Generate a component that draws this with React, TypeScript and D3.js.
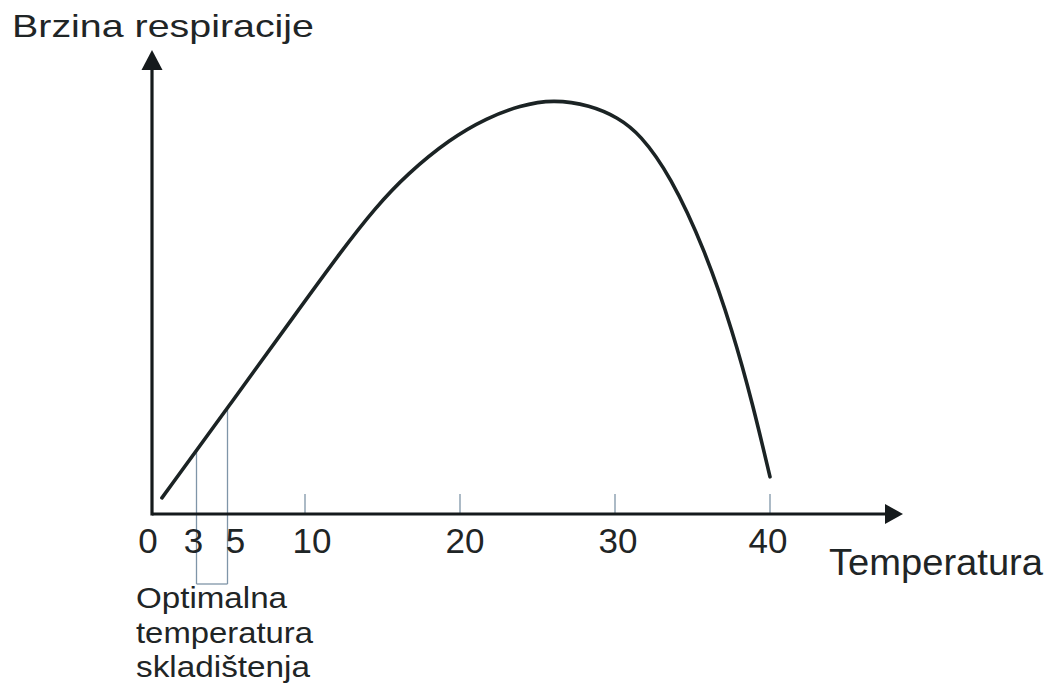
import React, { useEffect, useRef } from "react";
import * as d3 from "d3";

// curve (temperature, relative respiration rate)
const temps = [0.77, 5.1, 9.48, 12.39, 14.52, 16.58, 19.35, 21.74, 23.87, 26, 28.4, 30.2, 31.61, 33.55, 35.81, 37.61, 38.9, 40];
const rates = [3.9, 26.2, 48.9, 63.9, 74.1, 82.3, 90.8, 95.9, 98.9, 100.4, 99.0, 96.0, 92.0, 82.1, 63.9, 44.1, 26.4, 9.0];

const tickValues = [10, 20, 30, 40];
const labelValues = [0, 3, 5, 10, 20, 30, 40];
const optimalRange = [3, 5];

const yTitle = "Brzina respiracije";
const xTitle = "Temperatura";
const noteLines = ["Optimalna", "temperatura", "skladištenja"];

const FONT = "'Liberation Sans', Arial, sans-serif";

const App = () => {
  const ref = useRef<HTMLDivElement>(null);

  useEffect(() => {
    const width = 1050, height = 689;
    d3.select(ref.current).select("svg").remove();

    const svg = d3.select(ref.current)
      .append("svg")
      .attr("width", width)
      .attr("height", height)
      .style("position", "absolute")
      .style("left", 0)
      .style("top", 0)
      .style("background", "#fff");

    const x = d3.scaleLinear().domain([0, 40]).range([150, 770]);
    const y = d3.scaleLinear().domain([0, 100]).range([514, 101]);

    const axisY = y(0);
    const axisX = 152;

    // rate at a given temperature, linear between read points
    const rateAt = (t: number) => {
      const i = d3.bisectLeft(temps, t);
      const t0 = temps[i - 1], t1 = temps[i];
      return rates[i - 1] + (rates[i] - rates[i - 1]) * (t - t0) / (t1 - t0);
    };

    // optimal storage bracket
    const bracketBottom = 584;
    const br = svg.append("g")
      .attr("stroke", "#7f95a8")
      .attr("stroke-width", 1.3)
      .attr("fill", "none");
    optimalRange.forEach(t => {
      br.append("line")
        .attr("x1", x(t)).attr("x2", x(t))
        .attr("y1", y(rateAt(t))).attr("y2", bracketBottom);
    });
    br.append("line")
      .attr("x1", x(optimalRange[0])).attr("x2", x(optimalRange[1]))
      .attr("y1", bracketBottom).attr("y2", bracketBottom);

    // small ticks
    svg.append("g")
      .selectAll("line")
      .data(tickValues)
      .enter().append("line")
      .attr("x1", d => x(d)).attr("x2", d => x(d))
      .attr("y1", axisY - 20).attr("y2", axisY)
      .attr("stroke", "#7f95a8")
      .attr("stroke-width", 1.3);

    // axes
    svg.append("line")
      .attr("x1", axisX).attr("x2", 888)
      .attr("y1", axisY).attr("y2", axisY)
      .attr("stroke", "#151a1c").attr("stroke-width", 3.2);
    svg.append("path")
      .attr("d", `M903,${axisY} L885,${axisY - 10} L885,${axisY + 10} Z`)
      .attr("fill", "#151a1c");

    svg.append("line")
      .attr("x1", axisX).attr("x2", axisX)
      .attr("y1", axisY + 1.6).attr("y2", 68)
      .attr("stroke", "#151a1c").attr("stroke-width", 3.2);
    svg.append("path")
      .attr("d", `M${axisX},50 L${axisX - 10.5},70 L${axisX + 10.5},70 Z`)
      .attr("fill", "#151a1c");

    // respiration curve
    const line = d3.line<number>()
      .x((d, i) => x(temps[i]))
      .y(d => y(d))
      .curve(d3.curveBasis);
    svg.append("path")
      .datum(rates)
      .attr("d", line)
      .attr("fill", "none")
      .attr("stroke", "#1b2324")
      .attr("stroke-width", 3.6)
      .attr("stroke-linecap", "round");

    // tick labels
    const labelShift: Record<number, number> = { 0: -2, 3: -3, 5: 8, 10: 7, 20: 5, 30: 3, 40: -2 };
    svg.append("g")
      .selectAll("text")
      .data(labelValues)
      .enter().append("text")
      .attr("x", d => x(d) + (labelShift[d] || 0))
      .attr("y", 553)
      .attr("text-anchor", "middle")
      .attr("font-family", FONT)
      .attr("font-size", 35)
      .attr("fill", "#1f2526")
      .text(d => d);

    // titles
    svg.append("text")
      .attr("x", 12).attr("y", 37)
      .attr("font-family", FONT)
      .attr("font-size", 32)
      .attr("textLength", 302)
      .attr("lengthAdjust", "spacingAndGlyphs")
      .attr("fill", "#1f2526")
      .text(yTitle);

    svg.append("text")
      .attr("x", 829).attr("y", 575)
      .attr("font-family", FONT)
      .attr("font-size", 37)
      .attr("textLength", 214)
      .attr("lengthAdjust", "spacingAndGlyphs")
      .attr("fill", "#1f2526")
      .text(xTitle);

    const noteWidths = [151, 177, 174];
    svg.append("g")
      .selectAll("text")
      .data(noteLines)
      .enter().append("text")
      .attr("x", 136)
      .attr("y", (d, i) => 608 + i * 34.5)
      .attr("font-family", FONT)
      .attr("font-size", 29)
      .attr("textLength", (d, i) => noteWidths[i])
      .attr("lengthAdjust", "spacingAndGlyphs")
      .attr("fill", "#1f2526")
      .text(d => d);
  }, []);

  return <div ref={ref}></div>;
};

export default App;
